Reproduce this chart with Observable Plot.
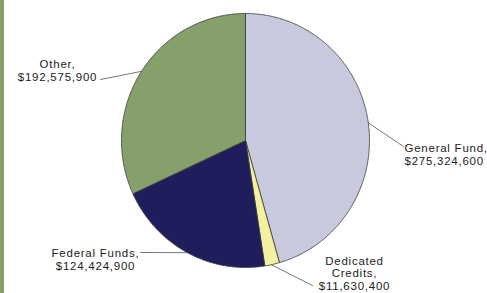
<!DOCTYPE html>
<html><head><meta charset="utf-8">
<script src="https://cdn.jsdelivr.net/npm/d3@7"></script>
<script src="https://cdn.jsdelivr.net/npm/@observablehq/plot@0.6"></script>
<style>
html,body{margin:0;padding:0;background:#fff;}
#wrap{position:relative;width:487px;height:293px;overflow:hidden;}
#bar{position:absolute;left:0;top:0;width:4px;height:293px;background:#85A06A;}
</style></head>
<body><div id="wrap"><div id="bar"></div><div id="chart"></div></div>
<script>
const categories = ["General Fund", "Dedicated Credits", "Federal Funds", "Other"];
const values = [275324600, 11630400, 124424900, 192575900];
const colors = ["#C9C9DD", "#F4F0A2", "#1F1D5C", "#85A06A"];
const labelText = ["General Fund,\n$275,324,600", "Dedicated\nCredits,\n$11,630,400", "Federal Funds,\n$124,424,900", "Other,\n$192,575,900"];

// layout
const W = 487, H = 293, cx = 245, cy = 140, rx = 124, ry = 127;
const leaderAngle = [82, 168, 208, 303];
const leaderEnd = [[403,146],[312,285],[140,252],[100,79]];
const labelPos = [[404,154],[354,273],[95,259],[57,70]];
const labelAnchor = ["start","middle","middle","middle"];

const pie = d3.pie().sort(null).value(d => d)(values);
const pts = (a) => [cx + rx*Math.sin(a), cy - ry*Math.cos(a)];
const slices = [];
pie.forEach((p,i) => {
  const n = Math.max(4, Math.ceil((p.endAngle - p.startAngle) / 0.01));
  slices.push({k:i, x:cx, y:cy});
  for (let j=0;j<=n;j++){
    const a = p.startAngle + (p.endAngle - p.startAngle)*j/n;
    const [x,y] = pts(a);
    slices.push({k:i, x, y});
  }
  slices.push({k:i, x:cx, y:cy});
});
const leaders = [];
categories.forEach((c,i)=>{
  const [x,y] = pts(leaderAngle[i]*Math.PI/180);
  leaders.push({k:i,x,y});
  leaders.push({k:i,x:leaderEnd[i][0],y:leaderEnd[i][1]});
});
const labels = categories.map((c,i)=>({k:i, x:labelPos[i][0], y:labelPos[i][1], t:labelText[i], a:labelAnchor[i]}));

const chart = Plot.plot({
  width: W, height: H,
  margin: 0,
  x: {domain:[0,W], range:[0,W], axis:null},
  y: {domain:[0,H], range:[0,H], axis:null},
  style: {fontFamily: "Liberation Sans, Arial, sans-serif", overflow:"visible"},
  marks: [
    Plot.line(slices, {x:"x", y:"y", z:"k", fill: d => colors[d.k], stroke:"#3a3a3a", strokeWidth:0.8, curve:"linear"}),
    Plot.line(leaders, {x:"x", y:"y", z:"k", stroke:"#555", strokeWidth:0.8}),
    ...labels.map(l => Plot.text([l], {x:"x", y:"y", text:"t", textAnchor:l.a, lineAnchor:"middle", fontSize:11.5, lineHeight:1.08, fill:"#222"}))
  ]
});
chart.querySelectorAll("text").forEach(t=>t.setAttribute("letter-spacing","0.75"));
document.getElementById("chart").appendChild(chart);
</script>
</body></html>
